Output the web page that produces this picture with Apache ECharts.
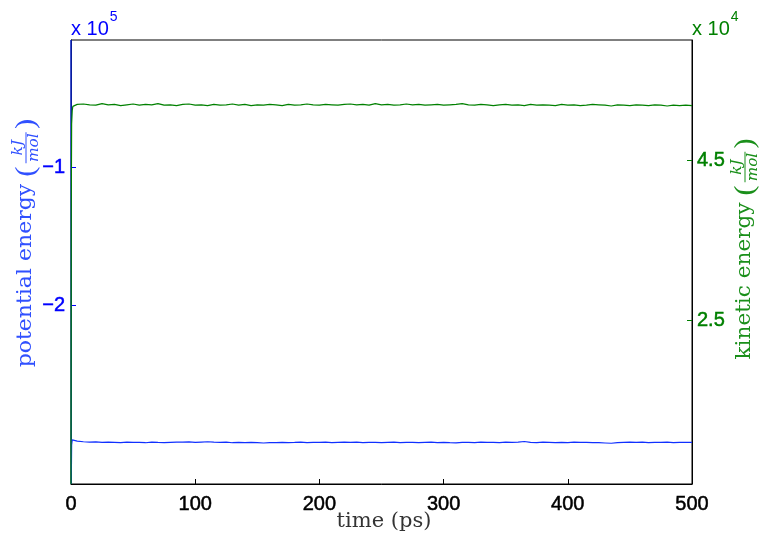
<!DOCTYPE html>
<html>
<head>
<meta charset="utf-8">
<script src="https://cdn.jsdelivr.net/npm/echarts@6/dist/echarts.min.js"></script>
<style>
  html, body { margin: 0; padding: 0; background: #fff; }
  #chart { width: 760px; height: 536px; }
</style>
</head>
<body>
<div id="chart"></div>
<script>
// Simulation time (ps)
const timePs = [
  0, 0.2, 0.5, 1, 1.5, 2,
  5, 10, 15, 20, 25, 30, 35, 40, 45, 50,
  55, 60, 65, 70, 75, 80, 85, 90, 95, 100,
  105, 110, 115, 120, 125, 130, 135, 140, 145, 150,
  155, 160, 165, 170, 175, 180, 185, 190, 195, 200,
  205, 210, 215, 220, 225, 230, 235, 240, 245, 250,
  255, 260, 265, 270, 275, 280, 285, 290, 295, 300,
  305, 310, 315, 320, 325, 330, 335, 340, 345, 350,
  355, 360, 365, 370, 375, 380, 385, 390, 395, 400,
  405, 410, 415, 420, 425, 430, 435, 440, 445, 450,
  455, 460, 465, 470, 475, 480, 485, 490, 495, 500
];

// Potential energy (kJ/mol)
const potentialEnergy = [
  -7200, -329900, -301500, -297800, -297900, -298100,
  -298700, -299200, -299500, -299300, -299700, -299400, -299600, -299800, -299500, -299700,
  -299600, -299900, -299500, -299700, -299800, -299600, -299400, -299500, -299300, -299600,
  -299400, -299200, -299500, -299700, -299500, -299900, -299600, -299800, -299700, -299900,
  -300100, -299800, -299900, -299600, -299800, -299700, -299500, -299800, -299600, -299700,
  -299500, -299800, -299600, -299400, -299700, -299500, -299800, -299600, -299700, -299900,
  -299600, -299500, -299800, -299700, -299600, -299900, -299700, -299500, -299800, -299600,
  -299900, -300000, -299700, -299600, -299800, -299500, -299700, -299600, -299800, -299500,
  -299700, -299400, -299000, -299600, -299800, -299500, -299700, -299900, -299600, -299800,
  -299500, -299700, -299600, -299800, -299900, -300100, -300300, -299800, -299600, -299400,
  -299700, -299500, -299800, -299600, -299700, -299500, -299800, -299600, -299700, -299600
];

// Kinetic energy (kJ/mol)
const kineticEnergy = [
  4500, 38000, 49500, 51200, 51700, 51900,
  51950, 52000, 51900, 51850, 52050, 51900, 51950, 51800, 51900, 52000,
  51850, 51950, 51900, 52050, 51850, 51900, 51800, 51950, 52000, 51850,
  51900, 51800, 51950, 51850, 51900, 52000, 51850, 51950, 51800, 51900,
  51850, 51950, 51900, 51800, 51950, 51850, 51900, 52000, 51900, 51850,
  51950, 51900, 51850, 51950, 52000, 51900, 51950, 51850, 52050, 51900,
  51950, 51850, 51900, 52000, 51900, 51950, 51850, 51900, 51950, 51850,
  51900, 51950, 52050, 51900, 51850, 51950, 51900, 51800, 51900, 51950,
  51850, 51900, 51800, 51950, 51850, 51900, 51850, 51800, 51950, 51850,
  51900, 51800, 51850, 51950, 51900, 51850, 51750, 51900, 51850, 51800,
  51900, 51850, 51800, 51900, 51850, 51750, 51850, 51800, 51850, 51800
];

// Tick positions and labels
const xTicks = [0, 100, 200, 300, 400, 500];
const leftTicks = [-200000, -100000];
const leftTickLabels = ['\u22122', '\u22121'];
const rightTicks = [25000, 45000];
const rightTickLabels = ['2.5', '4.5'];

const BLUE = '#0000ff';
const GREEN = '#008000';
const BLUE_TITLE = '#3050ff';
const GREEN_TITLE = '#1a8f1a';
const SANS = "'Liberation Sans', Arial, Helvetica, sans-serif";
const SERIF = "'DejaVu Serif', serif";
const PAREN_SERIF = "'Liberation Serif', serif";

const chart = echarts.init(document.getElementById('chart'), null, { renderer: 'canvas' });

const measureCtx = document.createElement('canvas').getContext('2d');
function textWidth(str, size, family, italic) {
  measureCtx.font = (italic ? 'italic ' : '') + size + 'px ' + family;
  return measureCtx.measureText(str).width;
}

function txt(x, y, text, size, family, color, align, vAlign, italic) {
  return {
    type: 'text', x: x, y: y,
    style: {
      text: text, fontSize: size, fontFamily: family, fontStyle: italic ? 'italic' : 'normal',
      fill: color, align: align, verticalAlign: vAlign
    }
  };
}

// Rotated axis title: "<label> ( kJ / mol )" with a stacked fraction
function fractionTitle(cx, cy, label, color, stretch) {
  const mainSize = 20, parenSize = 28, fracSize = 14;
  const wLabel = textWidth(label, mainSize, SERIF);
  const wSpace = textWidth(' ', mainSize, SERIF);
  const wParen = textWidth('(', parenSize, PAREN_SERIF);
  const wNum = textWidth('kJ', fracSize, SERIF, true);
  const wDen = textWidth('mol', fracSize, SERIF, true);
  const wFrac = Math.max(wNum, wDen) + 2;
  const gap = 3;
  const total = wLabel + wSpace + wParen + gap + wFrac + gap + wParen;
  let pos = -total / 2;
  const children = [];
  children.push(txt(pos, 0, label, mainSize, SERIF, color, 'left', 'middle'));
  pos += wLabel + wSpace;
  children.push(txt(pos, 1, '(', parenSize, PAREN_SERIF, color, 'left', 'middle'));
  pos += wParen + gap;
  const fc = pos + wFrac / 2;
  children.push(txt(fc, -1, 'kJ', fracSize, SERIF, color, 'center', 'bottom', true));
  children.push(txt(fc, 1, 'mol', fracSize, SERIF, color, 'center', 'top', true));
  children.push({ type: 'rect', shape: { x: pos, y: -0.5, width: wFrac, height: 1 },
    style: { fill: color } });
  pos += wFrac + gap;
  children.push(txt(pos, 1, ')', parenSize, PAREN_SERIF, color, 'left', 'middle'));
  return { type: 'group', x: cx, y: cy, rotation: Math.PI / 2, scaleX: stretch,
    children: children, silent: true };
}

function exponentLabel(x, y, base, exp, color) {
  const wBase = textWidth(base, 20, SANS);
  return {
    type: 'group', x: x, y: y, silent: true,
    children: [
      txt(0, 0, base, 20, SANS, color, 'left', 'middle'),
      txt(wBase + 1, -12, exp, 14, SANS, color, 'left', 'middle')
    ]
  };
}

const labelFont = { fontSize: 20, fontFamily: SANS, textBorderWidth: 0.5 };

const option = {
  animation: false,
  backgroundColor: '#ffffff',
  grid: {
    left: 71, right: 68, top: 40, bottom: 52,
    show: true, borderColor: '#000000', borderWidth: 1, backgroundColor: 'transparent'
  },
  xAxis: {
    type: 'value', min: 0, max: 500, interval: 100,
    axisLine: { show: true, lineStyle: { color: '#000000', width: 1 } },
    axisTick: { show: true, inside: true, length: 5, lineStyle: { color: '#000000' } },
    axisLabel: Object.assign({ color: '#000000', textBorderColor: '#000000', margin: 10,
      customValues: xTicks }, labelFont),
    splitLine: { show: false }
  },
  yAxis: [
    {
      type: 'value', position: 'left', min: -329900, max: -7200,
      axisLine: { show: true, lineStyle: { color: '#000000', width: 1 } },
      axisTick: { show: true, inside: true, length: 5, lineStyle: { color: BLUE },
        customValues: leftTicks },
      axisLabel: Object.assign({ color: BLUE, textBorderColor: BLUE, margin: 6,
        customValues: leftTicks,
        formatter: v => leftTickLabels[leftTicks.indexOf(v)] }, labelFont),
      splitLine: { show: false }
    },
    {
      type: 'value', position: 'right', min: 4500, max: 60000,
      axisLine: { show: true, lineStyle: { color: '#000000', width: 1 } },
      axisTick: { show: true, inside: true, length: 5, lineStyle: { color: GREEN },
        customValues: rightTicks },
      axisLabel: Object.assign({ color: GREEN, textBorderColor: GREEN, margin: 5,
        customValues: rightTicks,
        formatter: v => rightTickLabels[rightTicks.indexOf(v)] }, labelFont),
      splitLine: { show: false }
    }
  ],
  series: [
    {
      name: 'potential energy', type: 'line', yAxisIndex: 0,
      data: timePs.map((t, i) => [t, potentialEnergy[i]]),
      showSymbol: false, symbol: 'none',
      lineStyle: { color: '#1030ff', width: 1.2 }, z: 2
    },
    {
      name: 'kinetic energy', type: 'line', yAxisIndex: 1,
      data: timePs.map((t, i) => [t, kineticEnergy[i]]),
      showSymbol: false, symbol: 'none',
      lineStyle: { color: GREEN, width: 1.2 }, z: 3
    }
  ],
  graphic: [
    fractionTitle(26, 243, 'potential energy', BLUE_TITLE, 1.1),
    fractionTitle(745, 249, 'kinetic energy', GREEN_TITLE, 1.08),
    {
      type: 'group', x: 384, y: 522, scaleX: 1.05, silent: true,
      children: [txt(0, 0, 'time (ps)', 20, SERIF, '#333333', 'center', 'middle')]
    },
    exponentLabel(71, 29, 'x 10', '5', BLUE),
    exponentLabel(692, 29, 'x 10', '4', GREEN)
  ]
};

chart.setOption(option);
</script>
</body>
</html>
